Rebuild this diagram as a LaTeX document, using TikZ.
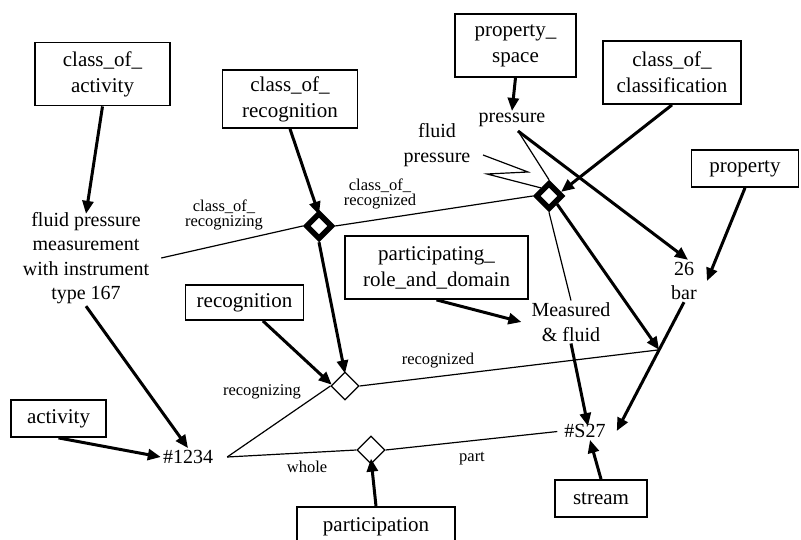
\documentclass[tikz,border=0pt]{standalone}
\usepackage{fontspec}
\setmainfont{Liberation Serif}
\usetikzlibrary{arrows.meta,shapes.geometric,calc}
\begin{document}
\begin{tikzpicture}[x=1pt,y=-1pt,
  box/.style={draw,line width=1.8pt,font=\fontsize{21}{26}\selectfont,align=center,inner sep=0pt},
  txt/.style={font=\fontsize{20}{24.5}\selectfont,align=center,inner sep=2pt},
  lbl/.style={font=\fontsize{16.5}{15}\selectfont,align=center,inner sep=1pt},
  thickdiam/.style={diamond,draw,line width=5.5pt,minimum size=27pt,inner sep=0pt},
  thindiam/.style={diamond,draw,line width=1.2pt,minimum size=28pt,inner sep=0pt},
  arr/.style={line width=3pt,-{Triangle[length=13pt,width=11pt]}},
  thinline/.style={line width=1.2pt}]
\useasboundingbox[fill=white] (0,0) rectangle (801,540);

% boxes
\node[box,minimum width=135pt,minimum height=63pt] (coa) at (102.5,74) {class\_of\_\\activity};
\node[box,minimum width=135pt,minimum height=58pt] (cor) at (290,99) {class\_of\_\\recognition};
\node[box,minimum width=121pt,minimum height=63pt] (ps) at (515.5,45.5) {property\_\\space};
\node[box,minimum width=138pt,minimum height=63pt] (coc) at (672,72.5) {class\_of\_\\classification};
\node[box,minimum width=107pt,minimum height=37pt] (prop) at (745,168.5) {property};
\node[box,minimum width=183pt,minimum height=63pt] (prd) at (436.5,267.5) {participating\_\\role\_and\_domain};
\node[box,minimum width=118pt,minimum height=35pt] (rec) at (244.5,302.5) {recognition};
\node[box,minimum width=95pt,minimum height=37pt] (act) at (58.5,418.5) {activity};
\node[box,minimum width=92pt,minimum height=37pt] (str) at (601,498.5) {stream};
\node[box,minimum width=158pt,minimum height=40pt] (par) at (376,527) {participation};

% plain texts
\node[txt] (fpm) at (86,258) {fluid pressure\\measurement\\with instrument\\type 167};
\node[txt] (pressure) at (512,120) {pressure};
\node[txt] (fp) at (437,145) {fluid\\pressure};
\node[txt] (n26) at (684,281) {26\\bar};
\node[txt] (ms) at (571,322) {Measured\\\& fluid};
\node[txt] (n1234) at (188,457) {\#1234};
\node[txt] (s27) at (585,431) {\#S27};

% diamonds
\node[thickdiam] (cord) at (319,226) {};
\node[thickdiam] (cocd) at (549,196) {};
\node[thindiam] (recd) at (345,386) {};
\node[thindiam] (pard) at (371,450) {};

% helper coordinates
\coordinate (h1234) at ([xshift=12pt]n1234.east);
\coordinate (s27r) at ([xshift=9pt]s27.east);
\coordinate (rel) at ($(n26.south)!0.37!(s27r)$);
\coordinate (prs) at ([xshift=6pt,yshift=-2pt]pressure.south);
\coordinate (fz1) at (483,155);
\coordinate (fz2) at (528,172);
\coordinate (fz3) at (487,174);

% labels
\node[lbl] (l1) at (224,215) {class\_of\_\\recognizing};
\node[lbl] (l2) at (380,194) {class\_of\_\\recognized};
\node[lbl] (l3) at (262,392) {recognizing};
\node[lbl] (l4) at (438,361) {recognized};
\node[lbl] (l5) at (307,467) {whole};
\node[lbl] (l6) at (472,459) {part};

% thick arrows
\draw[arr] (coa.south) -- ([yshift=-4pt]fpm.north);
\draw[arr] (fpm.south) -- (n1234.north);
\draw[arr] (act.south) -- (n1234.west);
\draw[arr] (cor.south) -- ([yshift=-5pt]cord.north);
\draw[arr] (cord.south) -- ([yshift=-2pt]recd.north);
\draw[arr] (rec.-45) -- ([xshift=-6pt,yshift=-6pt]recd.north west);
\draw[arr] (par.north) -- ([yshift=6pt]pard.south);
\draw[arr] (str.north) -- ([xshift=5pt]s27.south);
\draw[arr] (ps.south) -- (pressure.north);
\draw[arr] (prs) -- ([xshift=4pt]n26.north);
\draw[arr] (coc.south) -- ([xshift=4pt,yshift=-4pt]cocd.north east);
\draw[arr] (cocd.south east) -- (rel);
\draw[arr] (ms.south) -- ([xshift=3pt,yshift=-4pt]s27.north);
\draw[arr] (prd.south) -- ([xshift=-8pt]ms.west);
\draw[arr] (prop.south) -- ([xshift=8pt]n26.east);
\draw[arr] (n26.south) -- (s27r);

% thin lines
\draw[thinline] ([xshift=10pt]fpm.east) -- (cord.west);
\draw[thinline] (cord.east) -- (cocd.west);
\draw[thinline] (h1234) -- (recd.west);
\draw[thinline] (h1234) -- (pard.west);
\draw[thinline] (recd.east) -- (rel);
\draw[thinline,shorten >=5pt] (pard.east) -- (s27.west);
\draw[thinline] (prs) -- (cocd.north);
\draw[thinline] (fz1) -- (fz2) -- (fz3) -- (cocd.north west);
\draw[thinline] (cocd.south) -- (ms.north);
\end{tikzpicture}
\end{document}
